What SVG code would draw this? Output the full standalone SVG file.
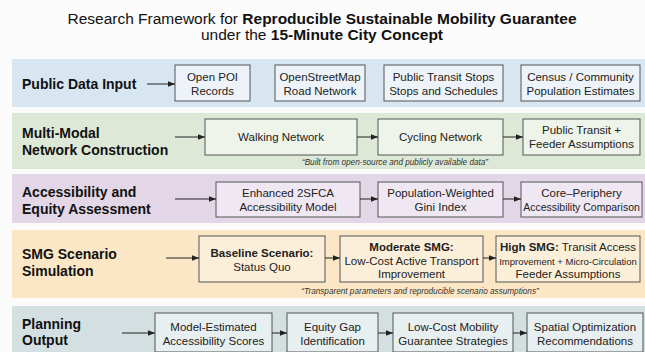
<svg xmlns="http://www.w3.org/2000/svg" width="645" height="352" viewBox="0 0 645 352">
  <defs>
    <marker id="arrow" viewBox="0 0 10 10" refX="10" refY="5" markerWidth="7" markerHeight="7" markerUnits="userSpaceOnUse" orient="auto">
      <path d="M0,1 L10,5 L0,9 z" fill="#222"/>
    </marker>
    <style>
      .title { font-family: "Liberation Sans", Arial, sans-serif; font-size: 15.5px; fill: #111; text-anchor: middle; }
      .b { font-weight: bold; }
      .lane { font-family: "Liberation Sans", Arial, sans-serif; font-size: 14px; font-weight: bold; fill: #111; }
      .box { stroke: #555; stroke-width: 1; }
      .t { font-family: "Liberation Sans", Arial, sans-serif; font-size: 11.5px; fill: #222; text-anchor: middle; }
      .sm { font-size: 9.5px; }
      .note { font-family: "Liberation Sans", Arial, sans-serif; font-size: 8.2px; font-style: italic; fill: #333; text-anchor: middle; }
      .conn line { stroke: #222; stroke-width: 1; marker-end: url(#arrow); }
    </style>
  </defs>

  <rect x="0" y="0" width="645" height="352" fill="#fbfbfb"/>

  <!-- title -->
  <g id="title">
    <text class="title" x="322" y="24">Research Framework for <tspan class="b">Reproducible Sustainable Mobility Guarantee</tspan></text>
    <text class="title" x="322" y="40">under the <tspan class="b">15-Minute City Concept</tspan></text>
  </g>

  <!-- swimlane backgrounds -->
  <g id="lanes">
    <rect x="12" y="59" width="633" height="48" fill="#d8e6f2"/>
    <rect x="12" y="113" width="633" height="56" fill="#dde9d6"/>
    <rect x="12" y="174" width="633" height="49" fill="#e2d6e7"/>
    <rect x="12" y="230" width="633" height="68" fill="#fbe7c6"/>
    <rect x="12" y="306" width="633" height="46" fill="#d3dfe1"/>
  </g>

  <!-- lane headings -->
  <g id="lane-public-data">
    <text class="lane" x="22" y="89">Public Data Input</text>
  </g>
  <g id="lane-network">
    <text class="lane" x="22" y="138">Multi-Modal</text>
    <text class="lane" x="22" y="155">Network Construction</text>
  </g>
  <g id="lane-accessibility">
    <text class="lane" x="22" y="197">Accessibility and</text>
    <text class="lane" x="22" y="214">Equity Assessment</text>
  </g>
  <g id="lane-smg">
    <text class="lane" x="22" y="259">SMG Scenario</text>
    <text class="lane" x="22" y="276">Simulation</text>
  </g>
  <g id="lane-planning">
    <text class="lane" x="22" y="329">Planning</text>
    <text class="lane" x="22" y="345">Output</text>
  </g>

  <!-- row 1: public data -->
  <g id="poi">
    <rect class="box" x="175" y="65" width="75" height="36" fill="#edf3f9"/>
    <text class="t" x="212.5" y="81">Open POI</text>
    <text class="t" x="212.5" y="95">Records</text>
  </g>
  <g id="osm">
    <rect class="box" x="275" y="65" width="90" height="36" fill="#edf3f9"/>
    <text class="t" x="320" y="81">OpenStreetMap</text>
    <text class="t" x="320" y="95">Road Network</text>
  </g>
  <g id="transit-stops">
    <rect class="box" x="384" y="65" width="119" height="36" fill="#edf3f9"/>
    <text class="t" x="443.5" y="81">Public Transit Stops</text>
    <text class="t" x="443.5" y="95">Stops and Schedules</text>
  </g>
  <g id="census">
    <rect class="box" x="521" y="65" width="119" height="36" fill="#edf3f9"/>
    <text class="t" x="580.5" y="81">Census / Community</text>
    <text class="t" x="580.5" y="95">Population Estimates</text>
  </g>

  <!-- row 2: networks -->
  <g id="walking">
    <rect class="box" x="205" y="119" width="152" height="36" fill="#eef4ea"/>
    <text class="t" x="281" y="141">Walking Network</text>
  </g>
  <g id="cycling">
    <rect class="box" x="378" y="119" width="125" height="36" fill="#eef4ea"/>
    <text class="t" x="440.5" y="141">Cycling Network</text>
  </g>
  <g id="transit-feeder">
    <rect class="box" x="523" y="119" width="117" height="36" fill="#eef4ea"/>
    <text class="t" x="581.5" y="134">Public Transit +</text>
    <text class="t" x="581.5" y="148">Feeder Assumptions</text>
  </g>
  <text class="note" x="395" y="165">“Built from open-source and publicly available data”</text>

  <!-- row 3: accessibility -->
  <g id="e2sfca">
    <rect class="box" x="216" y="182" width="144" height="35" fill="#efe7f2"/>
    <text class="t" x="288" y="197">Enhanced 2SFCA</text>
    <text class="t" x="288" y="211">Accessibility Model</text>
  </g>
  <g id="gini">
    <rect class="box" x="378" y="182" width="125" height="35" fill="#efe7f2"/>
    <text class="t" x="440.5" y="197">Population-Weighted</text>
    <text class="t" x="440.5" y="211">Gini Index</text>
  </g>
  <g id="core-periphery">
    <rect class="box" x="521" y="182" width="121" height="35" fill="#efe7f2"/>
    <text class="t" x="581.5" y="197">Core–Periphery</text>
    <text class="t" x="581.5" y="211" style="font-size:10.5px">Accessibility Comparison</text>
  </g>

  <!-- row 4: scenarios -->
  <g id="baseline">
    <rect class="box" x="199" y="236" width="126" height="46" fill="#fcefd9"/>
    <text class="t" x="262" y="257"><tspan class="b">Baseline Scenario:</tspan></text>
    <text class="t" x="262" y="271">Status Quo</text>
  </g>
  <g id="moderate">
    <rect class="box" x="340" y="236" width="143" height="46" fill="#fcefd9"/>
    <text class="t" x="411.5" y="251"><tspan class="b">Moderate SMG:</tspan></text>
    <text class="t" x="411.5" y="264.5">Low-Cost Active Transport</text>
    <text class="t" x="411.5" y="278">Improvement</text>
  </g>
  <g id="high">
    <rect class="box" x="496" y="236" width="144" height="46" fill="#fcefd9"/>
    <text class="t" x="568" y="251"><tspan class="b">High SMG:</tspan> Transit Access</text>
    <text class="t sm" x="568" y="265">Improvement + Micro-Circulation</text>
    <text class="t" x="568" y="278">Feeder Assumptions</text>
  </g>
  <text class="note" x="420" y="294">“Transparent parameters and reproducible scenario assumptions”</text>

  <!-- row 5: planning outputs -->
  <g id="scores">
    <rect class="box" x="155" y="313" width="117" height="39" fill="#e8eff0"/>
    <text class="t" x="213.5" y="331">Model-Estimated</text>
    <text class="t" x="213.5" y="345">Accessibility Scores</text>
  </g>
  <g id="equity-gap">
    <rect class="box" x="287" y="313" width="91" height="39" fill="#e8eff0"/>
    <text class="t" x="332.5" y="331">Equity Gap</text>
    <text class="t" x="332.5" y="345">Identification</text>
  </g>
  <g id="strategies">
    <rect class="box" x="393" y="313" width="120" height="39" fill="#e8eff0"/>
    <text class="t" x="453" y="331">Low-Cost Mobility</text>
    <text class="t" x="453" y="345">Guarantee Strategies</text>
  </g>
  <g id="optimization">
    <rect class="box" x="527" y="313" width="116" height="39" fill="#e8eff0"/>
    <text class="t" x="585" y="331">Spatial Optimization</text>
    <text class="t" x="585" y="345">Recommendations</text>
  </g>

  <!-- connectors -->
  <g class="conn" id="connectors">
    <line x1="147" y1="84" x2="175" y2="84"/>
    <line x1="175" y1="137" x2="205" y2="137"/>
    <line x1="357" y1="137" x2="378" y2="137"/>
    <line x1="503" y1="137" x2="523" y2="137"/>
    <line x1="175" y1="199" x2="216" y2="199"/>
    <line x1="360" y1="199" x2="378" y2="199"/>
    <line x1="503" y1="199" x2="521" y2="199"/>
    <line x1="166" y1="258" x2="199" y2="258"/>
    <line x1="325" y1="258" x2="340" y2="258"/>
    <line x1="483" y1="258" x2="496" y2="258"/>
    <line x1="122" y1="333" x2="155" y2="333"/>
    <line x1="272" y1="333" x2="287" y2="333"/>
    <line x1="378" y1="333" x2="393" y2="333"/>
    <line x1="513" y1="333" x2="527" y2="333"/>
  </g>
</svg>
